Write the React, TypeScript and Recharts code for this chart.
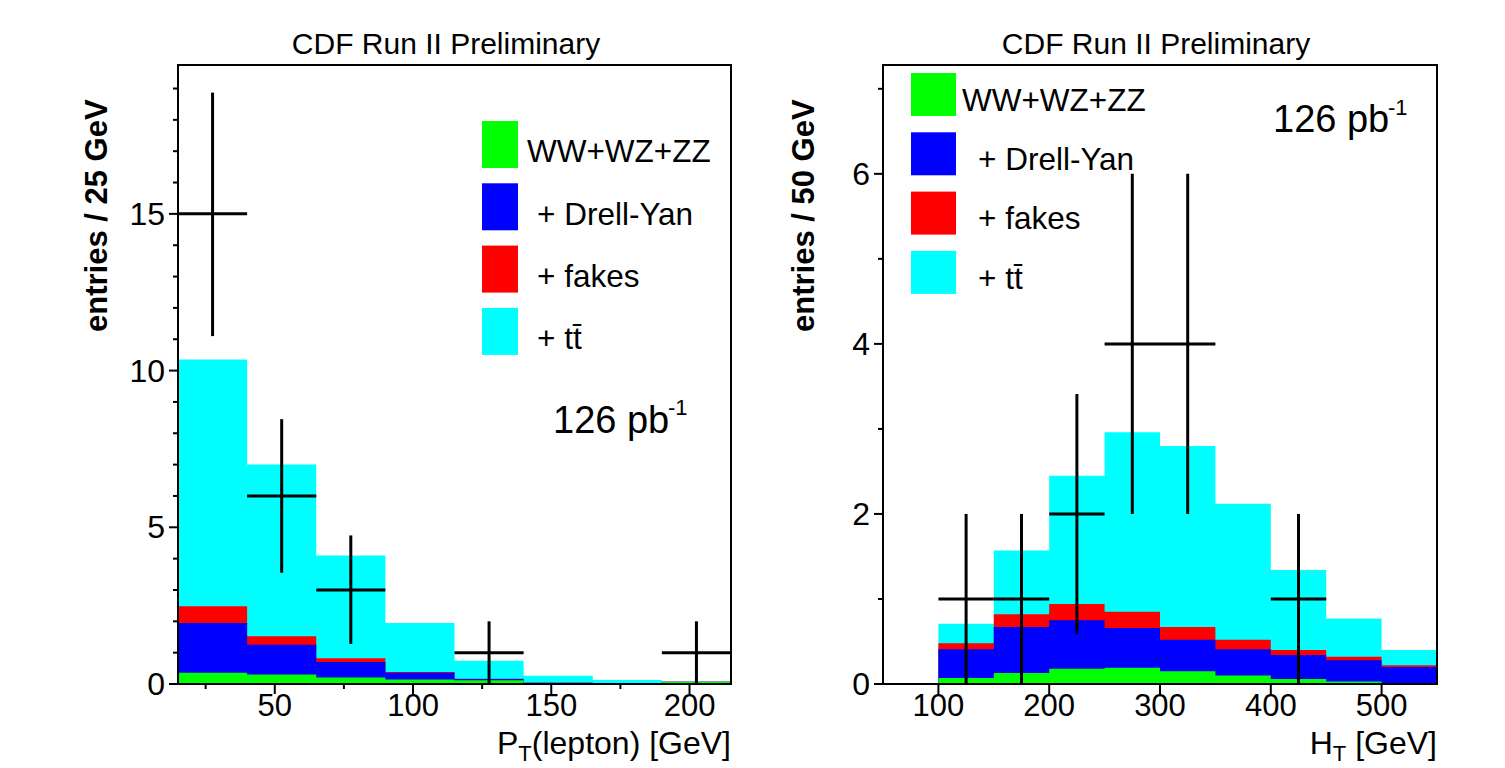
import React from "react";
import { ComposedChart, Area, Scatter, ErrorBar, XAxis, YAxis, ReferenceArea } from "recharts";

// ---- left panel: lepton pT, 25 GeV bins ----
const ptEdges = [15, 40, 65, 90, 115, 140, 165, 190, 215];
const ptTtbar = [10.35, 7.0, 4.1, 1.95, 0.74, 0.26, 0.13, 0.07];
const ptFakes = [2.48, 1.52, 0.82, 0.38, 0.17, 0.04, 0.03, 0.07];
const ptDrellYan = [1.95, 1.25, 0.7, 0.36, 0.16, 0.04, 0.03, 0.07];
const ptDiboson = [0.36, 0.3, 0.21, 0.14, 0.12, 0.03, 0.02, 0.07];
const ptDataX = [27.5, 52.5, 77.5, 127.5, 202.5];
const ptDataY = [15, 6, 3, 1, 1];
const ptDataLo = [11.1, 3.55, 1.28, 0, 0];
const ptDataHi = [18.87, 8.45, 4.74, 2, 2];
const ptYTicks = [0, 1, 2, 3, 4, 5, 6, 7, 8, 9, 10, 11, 12, 13, 14, 15, 16, 17, 18, 19];
const ptXTicks = [25, 50, 75, 100, 125, 150, 175, 200];

// ---- right panel: HT, 50 GeV bins ----
const htEdges = [50, 100, 150, 200, 250, 300, 350, 400, 450, 500, 550];
const htTtbar = [0, 0.71, 1.57, 2.45, 2.96, 2.8, 2.12, 1.34, 0.77, 0.4];
const htFakes = [0, 0.48, 0.82, 0.94, 0.85, 0.67, 0.52, 0.4, 0.32, 0.22];
const htDrellYan = [0, 0.41, 0.67, 0.75, 0.66, 0.52, 0.41, 0.34, 0.28, 0.2];
const htDiboson = [0, 0.07, 0.13, 0.18, 0.19, 0.15, 0.1, 0.06, 0.03, 0.01];
const htDataX = [125, 175, 225, 275, 325, 425];
const htDataY = [1, 1, 2, 4, 4, 1];
const htDataLo = [0, 0, 0.59, 2, 2, 0];
const htDataHi = [2, 2, 3.41, 6, 6, 2];
const htYTicks = [0, 1, 2, 3, 4, 5, 6, 7];
const htXTicks = [100, 200, 300, 400, 500];

const FONT = "'Liberation Sans', Arial, Helvetica, sans-serif";
const GREEN = "#00ff00";
const BLUE = "#0000ff";
const RED = "#ff0000";
const CYAN = "#00ffff";

function histRows(edges: number[], tt: number[], fk: number[], dy: number[], vv: number[]) {
  // step areas: each edge carries the content of the bin that starts there, last edge repeats
  return edges.map((x, i) => {
    const j = Math.min(i, tt.length - 1);
    return { x, tt: tt[j], fk: fk[j], dy: dy[j], vv: vv[j] };
  });
}

function pointRows(xs: number[], ys: number[], lo: number[], hi: number[], half: number) {
  return xs.map((x, i) => ({ x, y: ys[i], ey: [ys[i] - lo[i], hi[i] - ys[i]], ex: half }));
}

const makeYTick = (step: number) => (props: any) => {
  const { x, y, payload } = props;
  const major = payload.value % step === 0;
  const len = major ? 9 : 5;
  return (
    <g>
      <line x1={x - len} x2={x} y1={y} y2={y} stroke="#000" strokeWidth={2} />
      {major && (
        <text x={x - 13} y={y + 11} textAnchor="end" fontSize={32} fontFamily={FONT} fill="#000">
          {payload.value}
        </text>
      )}
    </g>
  );
};

const makeXTick = (step: number) => (props: any) => {
  const { x, y, payload } = props;
  const major = payload.value % step === 0;
  const len = major ? 10 : 5;
  return (
    <g>
      <line x1={x} x2={x} y1={y} y2={y + len} stroke="#000" strokeWidth={2} />
      {major && (
        <text x={x} y={y + 32} textAnchor="middle" fontSize={31} fontFamily={FONT} fill="#000">
          {payload.value}
        </text>
      )}
    </g>
  );
};

interface PanelProps {
  left: number;
  width: number;
  marginLeft: number;
  marginRight: number;
  rows: any[];
  points: any[];
  xDomain: [number, number];
  yMax: number;
  xTicks: number[];
  yTicks: number[];
  xStep: number;
  yStep: number;
}

function Panel(p: PanelProps) {
  return (
    <div style={{ position: "absolute", left: p.left, top: 0 }}>
      <ComposedChart
        width={p.width}
        height={768}
        data={p.rows}
        margin={{ top: 65, right: p.marginRight, bottom: 54, left: p.marginLeft }}
      >
        <XAxis
          dataKey="x"
          type="number"
          domain={p.xDomain}
          ticks={p.xTicks}
          interval={0}
          height={30}
          tickSize={0}
          tickMargin={0}
          tickLine={false}
          tick={makeXTick(p.xStep)}
          axisLine={{ stroke: "#000", strokeWidth: 2 }}
          allowDataOverflow
        />
        <YAxis
          type="number"
          domain={[0, p.yMax]}
          ticks={p.yTicks}
          interval={0}
          width={60}
          tickSize={0}
          tickMargin={0}
          tickLine={false}
          tick={makeYTick(p.yStep)}
          axisLine={{ stroke: "#000", strokeWidth: 2 }}
          allowDataOverflow
        />
        <Area type="stepAfter" dataKey="tt" fill={CYAN} fillOpacity={1} stroke="none" dot={false} activeDot={false} isAnimationActive={false} />
        <Area type="stepAfter" dataKey="fk" fill={RED} fillOpacity={1} stroke="none" dot={false} activeDot={false} isAnimationActive={false} />
        <Area type="stepAfter" dataKey="dy" fill={BLUE} fillOpacity={1} stroke="none" dot={false} activeDot={false} isAnimationActive={false} />
        <Area type="stepAfter" dataKey="vv" fill={GREEN} fillOpacity={1} stroke="none" dot={false} activeDot={false} isAnimationActive={false} />
        <Scatter data={p.points} dataKey="y" shape={() => <g />} isAnimationActive={false}>
          <ErrorBar dataKey="ey" direction="y" width={0} stroke="#000" strokeWidth={3} isAnimationActive={false} />
          <ErrorBar dataKey="ex" direction="x" width={0} stroke="#000" strokeWidth={3} isAnimationActive={false} />
        </Scatter>
        <ReferenceArea
          x1={p.xDomain[0]}
          x2={p.xDomain[1]}
          y1={0}
          y2={p.yMax}
          fill="none"
          fillOpacity={0}
          stroke="#000"
          strokeWidth={2}
          ifOverflow="visible"
        />
      </ComposedChart>
    </div>
  );
}

function LegendBlock({ x, y, boxW, boxH, gap, textX, entries }: any) {
  return (
    <g>
      {entries.map((e: any, i: number) => (
        <g key={i}>
          <rect x={x} y={y + i * gap} width={boxW} height={boxH} fill={e.color} />
          <text x={textX + e.dx} y={y + i * gap + boxH * 0.88} fontSize={31.5} fontFamily={FONT} fill="#000">
            {e.label}
          </text>
        </g>
      ))}
    </g>
  );
}

const legendEntries = [
  { color: GREEN, label: "WW+WZ+ZZ", dx: 0 },
  { color: BLUE, label: "+ Drell-Yan", dx: 10 },
  { color: RED, label: "+ fakes", dx: 10 },
  { color: CYAN, label: "+ tt\u0304", dx: 10 },
];

export default function App() {
  const ptRows = histRows(ptEdges, ptTtbar, ptFakes, ptDrellYan, ptDiboson);
  const htRows = histRows(htEdges, htTtbar, htFakes, htDrellYan, htDiboson);
  const ptPoints = pointRows(ptDataX, ptDataY, ptDataLo, ptDataHi, 12.5);
  const htPoints = pointRows(htDataX, htDataY, htDataLo, htDataHi, 25);

  return (
    <div style={{ position: "absolute", left: 0, top: 0, width: 1505, height: 768, background: "#fff" }}>
      <Panel
        left={0}
        width={760}
        marginLeft={118}
        marginRight={29}
        rows={ptRows}
        points={ptPoints}
        xDomain={[15, 215]}
        yMax={19.75}
        xTicks={ptXTicks}
        yTicks={ptYTicks}
        xStep={50}
        yStep={5}
      />
      <Panel
        left={760}
        width={745}
        marginLeft={63}
        marginRight={68}
        rows={htRows}
        points={htPoints}
        xDomain={[50, 550]}
        yMax={7.28}
        xTicks={htXTicks}
        yTicks={htYTicks}
        xStep={100}
        yStep={2}
      />
      <svg width={1505} height={768} style={{ position: "absolute", left: 0, top: 0, pointerEvents: "none" }}>
        {/* titles */}
        <text x={446} y={54} textAnchor="middle" fontSize={30} fontFamily={FONT}>CDF Run II Preliminary</text>
        <text x={1156} y={54} textAnchor="middle" fontSize={30} fontFamily={FONT}>CDF Run II Preliminary</text>

        {/* y axis titles */}
        <text transform="translate(107,332) rotate(-90)" fontSize={31} fontWeight="bold" fontFamily={FONT}>entries / 25 GeV</text>
        <text transform="translate(814,332) rotate(-90)" fontSize={31} fontWeight="bold" fontFamily={FONT}>entries / 50 GeV</text>

        {/* x axis titles */}
        <text x={731} y={754} textAnchor="end" fontSize={32} fontFamily={FONT}>
          P<tspan fontSize={22} dy={7}>T</tspan><tspan dy={-7}>(lepton) [GeV]</tspan>
        </text>
        <text x={1437} y={754} textAnchor="end" fontSize={32} fontFamily={FONT}>
          H<tspan fontSize={22} dy={7}>T</tspan><tspan dy={-7}> [GeV]</tspan>
        </text>

        {/* luminosity */}
        <text x={553} y={433} fontSize={38} fontFamily={FONT}>126 pb</text>
        <text x={668} y={415} fontSize={22} fontFamily={FONT}>-1</text>
        <text x={1273} y={132} fontSize={38} fontFamily={FONT}>126 pb</text>
        <text x={1388} y={115} fontSize={22} fontFamily={FONT}>-1</text>

        {/* legends */}
        <LegendBlock x={482} y={121} boxW={36} boxH={47} gap={62.3} textX={527} entries={legendEntries} />
        <LegendBlock x={911} y={73} boxW={45} boxH={43} gap={59.3} textX={962} entries={legendEntries.map((e, i) => ({ ...e, dx: i === 0 ? 0 : 16 }))} />
      </svg>
    </div>
  );
}
